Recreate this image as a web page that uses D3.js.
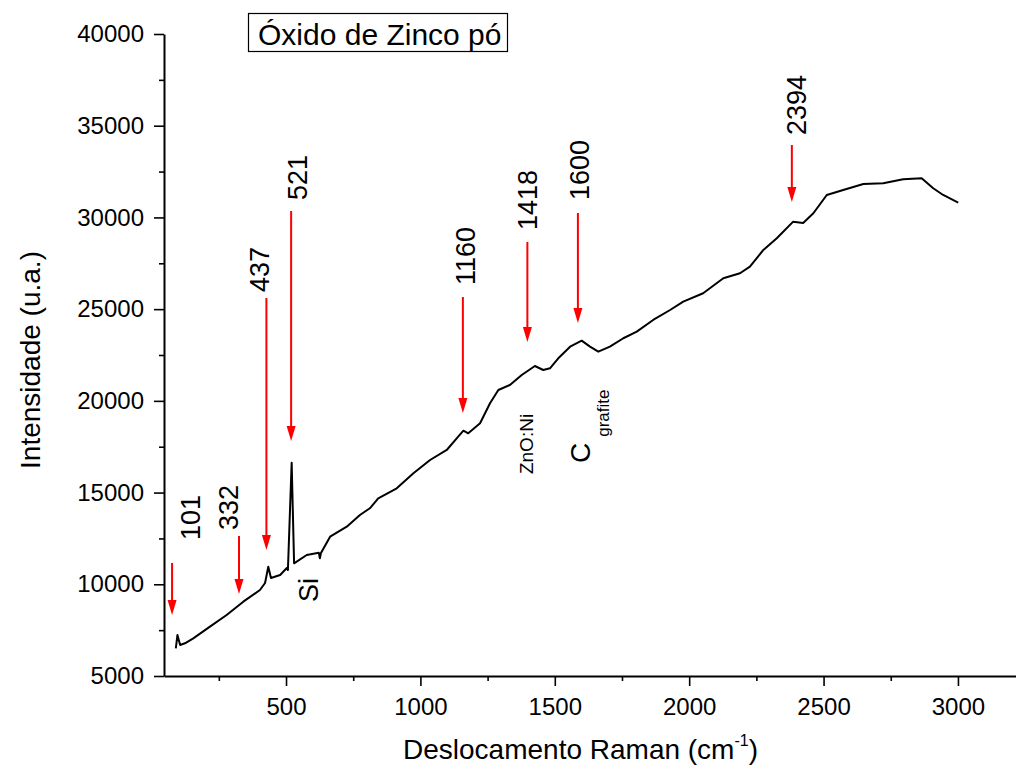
<!DOCTYPE html>
<html>
<head>
<meta charset="utf-8">
<script src="https://cdn.jsdelivr.net/npm/d3@7"></script>
<style>
  body { margin: 0; background: #fff; }
  svg { display: block; font-family: "Liberation Sans", Arial, sans-serif; }
</style>
</head>
<body>
<div id="chart"></div>
<script>
// Raman spectrum (wavenumber cm-1, intensity a.u.)
const ramanShift = [90, 96, 106, 124, 155, 217, 279, 341, 403, 422, 434, 444, 478, 503, 507, 521, 530,
    577, 622, 626, 630, 664, 726, 775, 812, 843, 912, 974, 1036, 1098, 1135, 1160, 1178, 1222, 1234,
    1259, 1290, 1333, 1377, 1426, 1457, 1482, 1513, 1557, 1600, 1631, 1662, 1705, 1755, 1805, 1866,
    1929, 1978, 2052, 2127, 2189, 2226, 2276, 2326, 2387, 2424, 2462, 2512, 2573, 2648, 2722, 2796,
    2865, 2908, 2945, 3001];
const intensity = [6510, 7235, 6690, 6783, 7055, 7688, 8326, 9051, 9689, 10070, 10959, 10343, 10507,
    10888, 10779, 16629, 11144, 11597, 11720, 11420, 11700, 12595, 13140, 13778, 14143, 14688, 15233,
    16051, 16776, 17322, 17960, 18374, 18232, 18777, 19137, 19868, 20593, 20865, 21411, 21901, 21683,
    21776, 22321, 22954, 23281, 22954, 22681, 22954, 23412, 23771, 24409, 24954, 25407, 25865, 26683,
    26955, 27315, 28226, 28863, 29769, 29700, 30226, 31224, 31497, 31824, 31862, 32080, 32135, 31590,
    31224, 30804];

// peak annotations: label, arrow (wavenumber, top, tip) and label anchor in data units
const peakLabels = ['101', '332', '437', '521', '1160', '1418', '1600', '2394'];
const arrowShift = [76, 325, 427, 519, 1158, 1398, 1586, 2382];
const arrowTop = [11161, 12633, 25609, 30352, 25663, 28662, 30243, 33950];
const arrowTip = [8326, 9471, 11870, 17812, 19339, 23210, 24246, 30842];
const labelShift = [180, 321, 437, 578, 1203, 1434, 1627, 2435];
const labelBase = [12415, 12960, 25936, 30952, 26317, 29316, 30952, 34495];

// assignment notes
const siNote = { text: 'Si', shift: 619, value: 9689 };
const znoNote = { text: 'ZnO:Ni', shift: 1419, value: 17649 };
const cNote = { text: 'C', sub: 'grafite', shift: 1631, value: 16613 };

const xMajor = [500, 1000, 1500, 2000, 2500, 3000];
const xMinor = [250, 750, 1250, 1750, 2250, 2750];
const yMajor = [5000, 10000, 15000, 20000, 25000, 30000, 35000, 40000];
const yMinor = [7500, 12500, 17500, 22500, 27500, 32500, 37500];

const W = 1016, H = 774;
const svg = d3.select('#chart').append('svg')
    .attr('width', W)
    .attr('height', H);

const x = d3.scaleLinear().domain([46, 3216]).range([164, 1016]);
const y = d3.scaleLinear().domain([5000, 40000]).range([676, 34]);

// Axes
const xAxis = svg.append('g')
    .attr('transform', `translate(0,${y(5000)})`)
    .call(d3.axisBottom(x).tickValues(xMajor).tickSize(10).tickPadding(12).tickSizeOuter(0).tickFormat(d3.format('d')));
xAxis.append('g')
    .call(d3.axisBottom(x).tickValues(xMinor).tickSize(5).tickFormat(''))
    .select('.domain').remove();

const yAxis = svg.append('g')
    .attr('transform', `translate(${x(46)},0)`)
    .call(d3.axisLeft(y).tickValues(yMajor).tickSize(10).tickPadding(10).tickSizeOuter(0).tickFormat(d3.format('d')));
yAxis.append('g')
    .call(d3.axisLeft(y).tickValues(yMinor).tickSize(5).tickFormat(''))
    .select('.domain').remove();

svg.selectAll('.domain').attr('stroke', '#000').attr('stroke-width', 2);
svg.selectAll('.tick line').attr('stroke', '#000').attr('stroke-width', 1.6);
svg.selectAll('.tick text')
    .attr('fill', '#000')
    .style('font-size', '24px')
    .style('font-family', '"Liberation Sans", Arial, sans-serif');

// Axis titles
svg.append('text')
    .attr('transform', 'translate(40,360) rotate(-90)')
    .attr('text-anchor', 'middle')
    .style('font-size', '28px')
    .text('Intensidade (u.a.)');

const xTitle = svg.append('text')
    .attr('x', 403)
    .attr('y', 759)
    .style('font-size', '28px');
xTitle.append('tspan').text('Deslocamento Raman (cm');
xTitle.append('tspan').attr('dy', -13).style('font-size', '16px').text('-1');
xTitle.append('tspan').attr('dy', 13).text(')');

// Title box
svg.append('rect')
    .attr('x', 248.5).attr('y', 13.5)
    .attr('width', 259).attr('height', 38)
    .attr('fill', 'none')
    .attr('stroke', '#000')
    .attr('stroke-width', 1.2);
svg.append('text')
    .attr('x', 258)
    .attr('y', 45)
    .style('font-size', '30px')
    .text('Óxido de Zinco pó');

// Spectrum
const spectrum = ramanShift.map((s, i) => ({ s, v: intensity[i] }));
const line = d3.line()
    .x(d => x(d.s))
    .y(d => y(d.v));
svg.append('path')
    .datum(spectrum)
    .attr('fill', 'none')
    .attr('stroke', '#000')
    .attr('stroke-width', 2)
    .attr('stroke-linejoin', 'round')
    .attr('d', line);

// Arrows
const headLen = 15, headHalf = 4.5;
peakLabels.forEach((lab, i) => {
    const ax = x(arrowShift[i]);
    const y0 = y(arrowTop[i]);
    const y1 = y(arrowTip[i]);
    svg.append('line')
        .attr('x1', ax).attr('x2', ax)
        .attr('y1', y0).attr('y2', y1 - headLen + 2)
        .attr('stroke', '#ff0000')
        .attr('stroke-width', 2);
    svg.append('path')
        .attr('d', `M${ax - headHalf},${y1 - headLen}L${ax + headHalf},${y1 - headLen}L${ax},${y1}Z`)
        .attr('fill', '#ff0000');
    svg.append('text')
        .attr('transform', `translate(${x(labelShift[i])},${y(labelBase[i])}) rotate(-90)`)
        .style('font-size', '27px')
        .text(lab);
});

// Assignment notes
svg.append('text')
    .attr('transform', `translate(${x(siNote.shift)},${y(siNote.value)}) rotate(-90)`)
    .attr('text-anchor', 'middle')
    .style('font-size', '27px')
    .text(siNote.text);

svg.append('text')
    .attr('transform', `translate(${x(znoNote.shift)},${y(znoNote.value)}) rotate(-90)`)
    .attr('text-anchor', 'middle')
    .style('font-size', '19px')
    .text(znoNote.text);

const cText = svg.append('text')
    .attr('transform', `translate(${x(cNote.shift)},${y(cNote.value)}) rotate(-90)`)
    .style('font-size', '28px');
cText.append('tspan').text(cNote.text);
cText.append('tspan').attr('dx', 6).attr('dy', 19).style('font-size', '17px').text(cNote.sub);
</script>
</body>
</html>
